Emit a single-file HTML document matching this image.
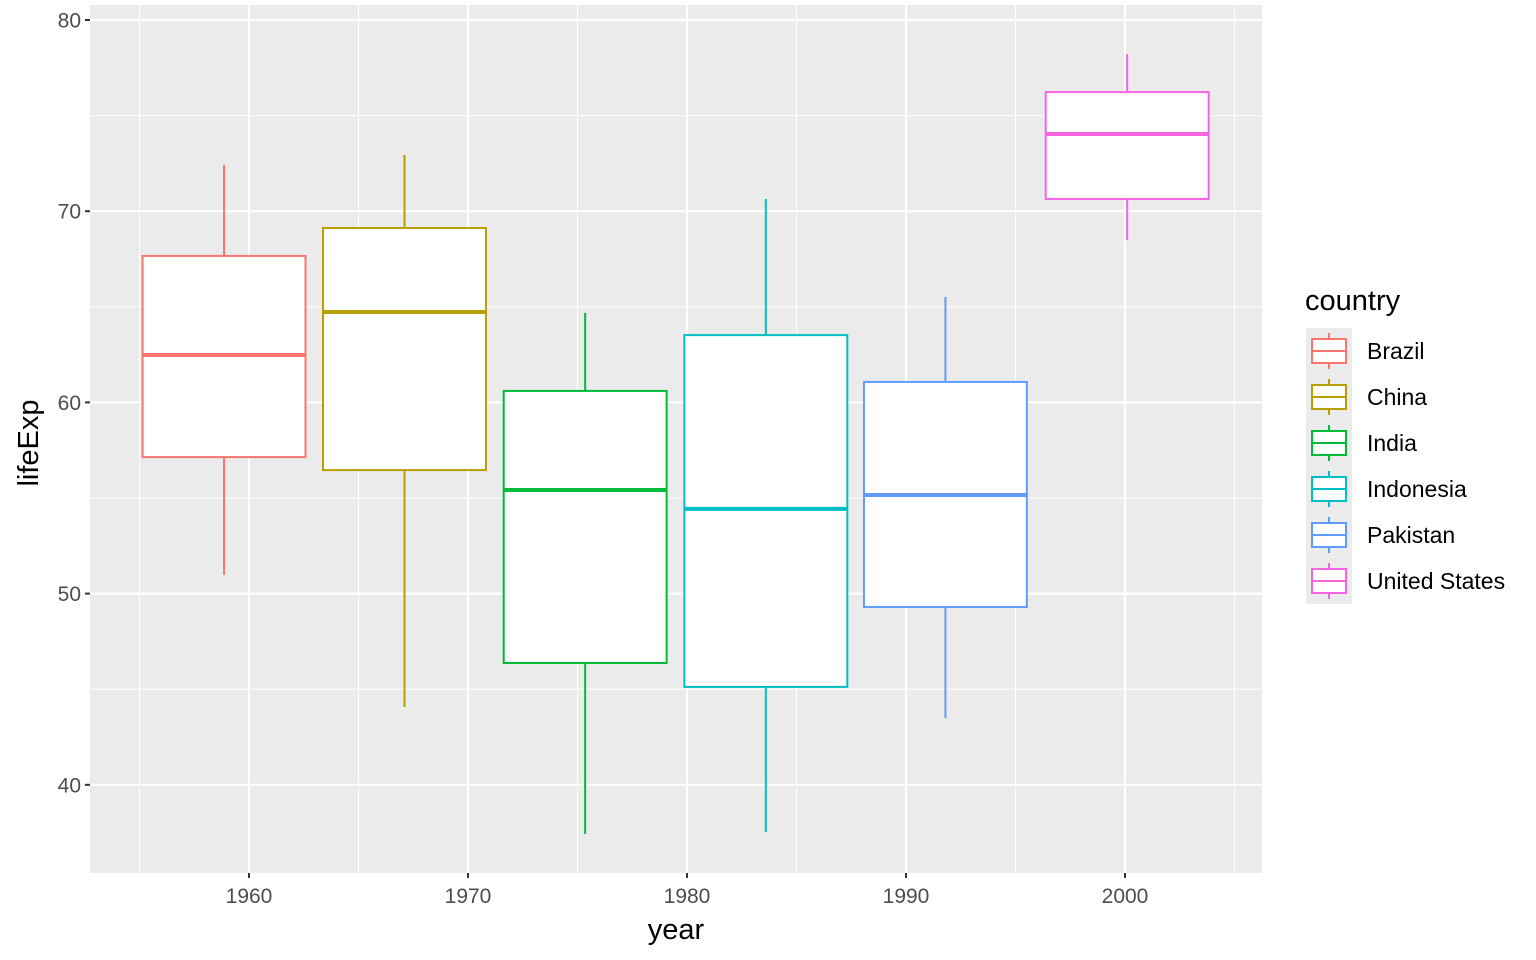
<!DOCTYPE html>
<html><head><meta charset="utf-8"><style>
html,body{margin:0;padding:0;background:#fff;}
svg{display:block;font-family:"Liberation Sans",Arial,sans-serif;}
</style></head><body>
<svg id="chart" width="1536" height="960"></svg>
<script>
const countries=["Brazil","China","India","Indonesia","Pakistan","United States"];
const centerYears=[1958.86,1967.1,1975.35,1983.6,1991.8,2000.1];
const whiskerLow=[50.97,44.07,37.43,37.53,43.49,68.49];
const q1=[57.14,56.46,46.37,45.12,49.3,70.64];
const medians=[62.48,64.73,55.42,54.43,55.16,74.04];
const q3=[67.66,69.12,60.6,63.52,61.07,76.23];
const whiskerHigh=[72.42,72.94,64.68,70.64,65.51,78.22];
const colors=["#F8766D","#B79F00","#00BA38","#00BFC4","#619CFF","#F564E3"];
const xTicks=[1960,1970,1980,1990,2000];
const xMinor=[1955,1965,1975,1985,1995,2005];
const yTicks=[40,50,60,70,80];
const yMinor=[45,55,65,75];
const boxWidthYears=7.44;

const NS="http://www.w3.org/2000/svg";
const svg=document.getElementById("chart");
const PL=90,PR=1262,PT=5,PB=873;
const xs=v=>249+(v-1960)*21.9;
const ys=v=>20+(80-v)*19.12;
function mk(tag,attrs,parent){const e=document.createElementNS(NS,tag);for(const k in attrs)e.setAttribute(k,attrs[k]);(parent||svg).appendChild(e);return e;}

const panel=mk("rect",{x:PL,y:PT,width:PR-PL,height:PB-PT,fill:"#EBEBEB"});


yMinor.forEach(v=>{const l=mk("line",{x1:PL,x2:PR,y1:ys(v),y2:ys(v),stroke:"#fff","stroke-width":1});

});
xMinor.forEach(v=>{const l=mk("line",{x1:xs(v),x2:xs(v),y1:PT,y2:PB,stroke:"#fff","stroke-width":1});

});
yTicks.forEach(v=>{const l=mk("line",{x1:PL,x2:PR,y1:ys(v),y2:ys(v),stroke:"#fff","stroke-width":2.2});


const t=mk("line",{x1:PL-5,x2:PL,y1:ys(v),y2:ys(v),stroke:"#333","stroke-width":2});


const tx=mk("text",{x:PL-9,y:ys(v)+7.5,"text-anchor":"end","font-size":"21",fill:"#4D4D4D"});tx.textContent=v;

});
xTicks.forEach(v=>{const l=mk("line",{x1:xs(v),x2:xs(v),y1:PT,y2:PB,stroke:"#fff","stroke-width":2.2});


const t=mk("line",{x1:xs(v),x2:xs(v),y1:PB,y2:PB+5,stroke:"#333","stroke-width":2});


const tx=mk("text",{x:xs(v),y:PB+30,"text-anchor":"middle","font-size":"21",fill:"#4D4D4D"});tx.textContent=v;

});

countries.forEach((c,i)=>{
  const g=mk("g",{});
  
  
  const cx=xs(centerYears[i]),hw=boxWidthYears/2*21.9,col=colors[i];
  mk("line",{x1:cx,x2:cx,y1:ys(whiskerHigh[i]),y2:ys(q3[i]),stroke:col,"stroke-width":2},g);
  mk("line",{x1:cx,x2:cx,y1:ys(q1[i]),y2:ys(whiskerLow[i]),stroke:col,"stroke-width":2},g);
  mk("rect",{x:cx-hw,y:ys(q3[i]),width:2*hw,height:ys(q1[i])-ys(q3[i]),fill:"#fff",stroke:col,"stroke-width":2},g);
  mk("line",{x1:cx-hw,x2:cx+hw,y1:ys(medians[i]),y2:ys(medians[i]),stroke:col,"stroke-width":4},g);
});

const xt=mk("text",{x:676,y:939,"text-anchor":"middle","font-size":"29",fill:"#000"});xt.textContent="year";


const yt=mk("text",{x:0,y:0,transform:"translate(38,443) rotate(-90)","text-anchor":"middle","font-size":"29",fill:"#000"});yt.textContent="lifeExp";



const lt=mk("text",{x:1305,y:310,"font-size":"29",fill:"#000"});lt.textContent="country";


const lbg=mk("rect",{x:1306,y:328,width:46,height:276,fill:"#EBEBEB"});


countries.forEach((c,i)=>{
  const g=mk("g",{});
  
  
  const cy=351+i*46,col=colors[i];
  mk("line",{x1:1329,x2:1329,y1:cy-18,y2:cy+18,stroke:col,"stroke-width":2},g);
  mk("rect",{x:1312,y:cy-12,width:34,height:24,fill:"#fff",stroke:col,"stroke-width":2},g);
  mk("line",{x1:1312,x2:1346,y1:cy,y2:cy,stroke:col,"stroke-width":2},g);
  const t=mk("text",{x:1367,y:cy+8,"font-size":"23",fill:"#000"},g);t.textContent=c;
});
</script>
</body></html>
